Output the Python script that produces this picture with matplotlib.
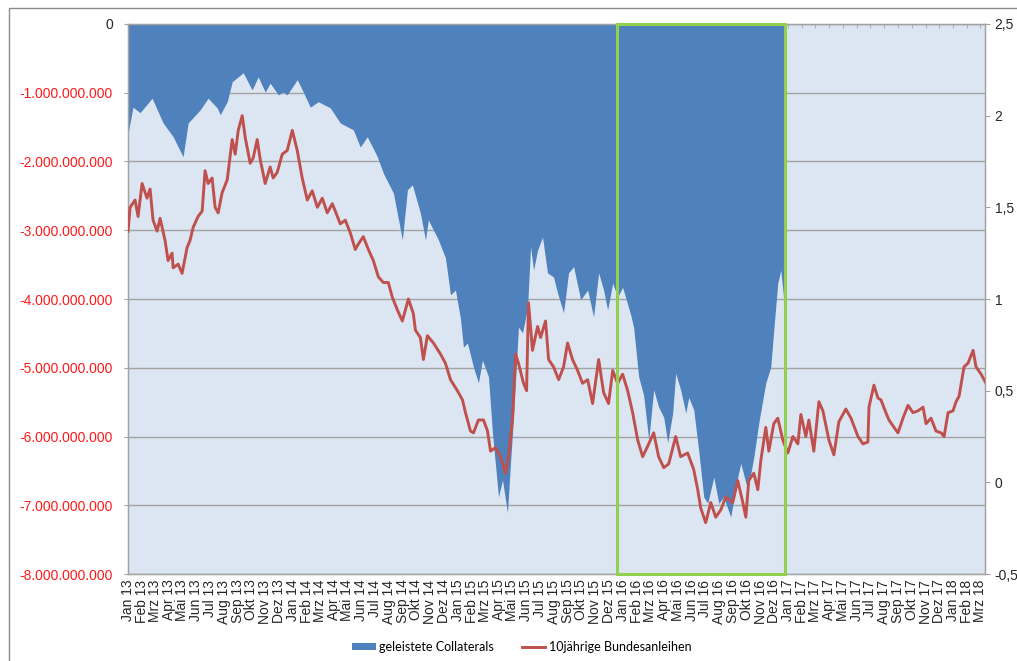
import numpy as np
import pandas as pd
import matplotlib
matplotlib.use("Agg")
import matplotlib.pyplot as plt
import matplotlib.dates as mdates
from matplotlib.patches import Rectangle
from matplotlib.lines import Line2D
from matplotlib.ticker import FuncFormatter, MultipleLocator, FixedLocator

# Geleistete Collaterals (Mrd. EUR), Zeitpunkt in Monaten seit Jan 2013
collateral_month = [
    0.00, 0.36, 0.87, 1.75, 2.55, 3.28, 4.00, 4.37, 5.24, 5.82, 6.48, 6.70, 7.21, 7.57,
    8.37, 9.02, 9.46, 9.97, 10.33, 10.92, 11.28, 11.57, 12.30, 12.74, 13.25, 13.83, 14.70,
    15.43, 16.38, 16.88, 17.39, 18.12, 18.56, 19.29, 19.94, 20.31, 20.67, 21.25, 21.62,
    21.83, 22.56, 23.07, 23.44, 23.80, 24.16, 24.38, 24.67, 25.11, 25.47, 25.76, 26.20,
    26.49, 26.93, 27.22, 27.58, 27.80, 28.02, 28.38, 28.68, 29.04, 29.26, 29.48, 29.77,
    30.13, 30.49, 30.93, 31.22, 31.66, 32.02, 32.39, 32.90, 33.41, 33.84, 34.21, 34.57,
    34.86, 35.23, 35.59, 35.95, 36.54, 36.75, 37.12, 37.48, 37.85, 38.21, 38.57, 38.94,
    39.23, 39.59, 39.81, 40.17, 40.54, 40.76, 41.12, 41.48, 41.85, 42.14, 42.58, 42.94,
    43.30, 43.81, 44.32, 44.54, 45.05, 45.49, 45.85, 46.36, 46.72, 46.94, 47.23, 47.45,
    47.67,
]
collateral_bn = [
    -1.59, -1.21, -1.29, -1.08, -1.44, -1.64, -1.93, -1.44, -1.25, -1.08, -1.22, -1.32,
    -1.13, -0.84, -0.71, -0.96, -0.77, -0.99, -0.86, -1.03, -0.99, -1.03, -0.81, -0.99,
    -1.21, -1.13, -1.22, -1.44, -1.54, -1.79, -1.64, -1.93, -2.17, -2.46, -3.14, -2.41,
    -2.34, -2.75, -3.14, -2.85, -3.14, -3.40, -3.94, -3.87, -4.28, -4.70, -4.64, -4.99,
    -5.22, -4.89, -5.13, -5.95, -6.88, -6.63, -7.11, -6.39, -5.72, -4.41, -4.49, -4.12,
    -3.24, -3.58, -3.29, -3.10, -3.62, -3.68, -3.91, -4.20, -3.62, -3.53, -4.01, -3.87,
    -4.26, -3.62, -3.87, -4.16, -3.77, -3.97, -3.83, -4.23, -4.41, -5.13, -5.40, -6.05,
    -5.32, -5.57, -5.72, -6.09, -5.66, -5.08, -5.32, -5.66, -5.43, -5.61, -6.20, -6.88,
    -6.97, -6.59, -6.97, -6.88, -7.17, -6.59, -6.39, -6.78, -6.30, -5.80, -5.22, -4.99,
    -4.45, -3.77, -3.58, -4.01,
]

# Rendite 10jähriger Bundesanleihen (%), Zeitpunkt in Monaten seit Jan 2013
bund_month = [
    0.00, 0.15, 0.51, 0.73, 1.02, 1.38, 1.60, 1.82, 2.11, 2.33, 2.69, 2.91, 3.20, 3.28,
    3.64, 3.93, 4.29, 4.51, 4.73, 5.09, 5.39, 5.60, 5.82, 6.11, 6.33, 6.55, 6.84, 7.21,
    7.57, 7.79, 8.01, 8.30, 8.52, 8.88, 9.10, 9.39, 9.61, 9.97, 10.33, 10.55, 10.84,
    11.21, 11.57, 11.94, 12.30, 12.66, 13.03, 13.39, 13.76, 14.12, 14.48, 14.85, 15.43,
    15.79, 16.16, 16.52, 16.74, 17.10, 17.47, 17.83, 18.20, 18.56, 18.92, 19.21, 19.58,
    19.94, 20.38, 20.74, 20.89, 21.25, 21.47, 21.76, 22.20, 22.71, 23.07, 23.44, 23.94,
    24.31, 24.53, 24.89, 25.11, 25.47, 25.84, 26.13, 26.35, 26.71, 27.07, 27.44, 27.66,
    27.95, 28.17, 28.38, 28.75, 28.97, 29.11, 29.40, 29.77, 29.99, 30.35, 30.57, 30.93,
    31.30, 31.66, 31.95, 32.31, 32.68, 33.04, 33.41, 33.77, 34.21, 34.57, 34.93, 35.23,
    35.59, 35.95, 36.32, 36.68, 37.05, 37.41, 37.85, 38.21, 38.57, 38.94, 39.30, 39.81,
    40.17, 40.68, 41.12, 41.41, 41.63, 41.99, 42.36, 42.72, 43.09, 43.45, 43.96, 44.32,
    44.69, 44.91, 45.12, 45.49, 45.78, 46.00, 46.36, 46.58, 46.94, 47.23, 47.60, 47.96,
    48.33, 48.69, 48.91, 49.27, 49.49, 49.85, 50.22, 50.51, 50.95, 51.31, 51.67, 52.18,
    52.55, 53.06, 53.42, 53.78, 53.86, 54.22, 54.51, 54.73, 55.09, 55.31, 55.68, 55.97,
    56.33, 56.70, 57.06, 57.42, 57.79, 58.01, 58.37, 58.73, 59.10, 59.32, 59.61, 59.97,
    60.19, 60.41, 60.77, 61.06, 61.43, 61.64, 62.01, 62.37,
]
bund_yield = [
    1.37, 1.50, 1.54, 1.45, 1.63, 1.55, 1.60, 1.43, 1.37, 1.44, 1.32, 1.21, 1.25, 1.17,
    1.19, 1.14, 1.28, 1.32, 1.39, 1.45, 1.48, 1.70, 1.63, 1.66, 1.50, 1.47, 1.58, 1.65,
    1.87, 1.79, 1.92, 2.00, 1.88, 1.74, 1.77, 1.87, 1.76, 1.63, 1.72, 1.66, 1.69, 1.79,
    1.81, 1.92, 1.81, 1.66, 1.54, 1.59, 1.50, 1.55, 1.47, 1.52, 1.41, 1.43, 1.36, 1.27,
    1.30, 1.34, 1.27, 1.21, 1.12, 1.09, 1.09, 1.01, 0.94, 0.88, 1.00, 0.92, 0.83, 0.79,
    0.67, 0.80, 0.76, 0.70, 0.65, 0.56, 0.50, 0.45, 0.38, 0.28, 0.27, 0.34, 0.34, 0.28,
    0.17, 0.19, 0.14, 0.05, 0.14, 0.35, 0.70, 0.65, 0.54, 0.50, 0.98, 0.72, 0.85, 0.79,
    0.88, 0.67, 0.63, 0.56, 0.63, 0.76, 0.67, 0.61, 0.54, 0.56, 0.43, 0.67, 0.49, 0.43,
    0.61, 0.54, 0.59, 0.50, 0.38, 0.23, 0.14, 0.21, 0.27, 0.14, 0.08, 0.10, 0.25, 0.14,
    0.16, 0.07, -0.04, -0.14, -0.22, -0.11, -0.19, -0.15, -0.08, -0.11, 0.01, -0.11,
    -0.19, 0.01, 0.05, -0.04, 0.12, 0.30, 0.17, 0.32, 0.35, 0.23, 0.16, 0.25, 0.21, 0.37,
    0.25, 0.34, 0.17, 0.44, 0.39, 0.23, 0.15, 0.33, 0.40, 0.35, 0.25, 0.21, 0.22, 0.41,
    0.53, 0.46, 0.45, 0.38, 0.34, 0.30, 0.27, 0.35, 0.42, 0.38, 0.39, 0.41, 0.32, 0.35,
    0.28, 0.27, 0.25, 0.38, 0.39, 0.44, 0.47, 0.63, 0.65, 0.72, 0.63, 0.59, 0.54,
]

MONATE = ["Jan", "Feb", "Mrz", "Apr", "Mai", "Jun", "Jul", "Aug", "Sep", "Okt", "Nov", "Dez"]
LEGEND_COLLATERAL = "geleistete Collaterals"
LEGEND_BUND = "10jährige Bundesanleihen"

# Zeitraum des Ausschnitts (grüner Rahmen)
highlight_start = "2015-12-19"
highlight_end = "2016-12-24"

START = pd.Timestamp("2013-01-01")
END = pd.Timestamp("2018-03-12")


def months_to_num(months):
    ts = START + pd.to_timedelta(np.asarray(months) * 30.4375, unit="D")
    return mdates.date2num(ts.to_pydatetime())


plt.rcParams["font.family"] = ["Liberation Sans", "DejaVu Sans"]

BLUE = "#4F81BD"
RED = "#C0504D"
GRID = "#A3A3A3"
BG = "#DCE6F2"

fig = plt.figure(figsize=(10.17, 6.61), dpi=100)
ax = fig.add_axes([0.1259, 0.1316, 0.8426, 0.8321])
ax.set_facecolor(BG)

xc = months_to_num(collateral_month)
yc = np.asarray(collateral_bn) * 1e9
ax.fill_between(xc, yc, 0, color=BLUE, linewidth=0, zorder=1)

ax.set_ylim(-8e9, 0)
ax.set_xlim(mdates.date2num(START), mdates.date2num(END))
ax.yaxis.set_major_locator(MultipleLocator(1e9))
ax.yaxis.set_major_formatter(FuncFormatter(lambda v, p: f"{int(round(v)):,}".replace(",", ".")))
ax.grid(axis="y", color=GRID, linewidth=1.0, zorder=0)
ax.set_axisbelow(True)

# Monatliche Beschriftung der Zeitachse
month_ticks = pd.date_range("2013-01-01", "2018-03-01", freq="MS")
ax.xaxis.set_major_locator(FixedLocator(mdates.date2num(month_ticks.to_pydatetime())))
ax.set_xticklabels([f"{MONATE[d.month - 1]} {d.year % 100:02d}" for d in month_ticks],
                   rotation=90, fontsize=10, color="#262626")
ax.tick_params(axis="x", top=True, bottom=False, labeltop=False, labelbottom=True,
               direction="in", length=3, color="#B0B0B0", pad=4)
ax.tick_params(axis="y", direction="out", length=3, color=GRID, labelsize=10, pad=8)
for lbl in ax.get_yticklabels():
    lbl.set_color("#262626" if lbl.get_text() == "0" else "#FF1A1A")

for side in ["left", "right", "top", "bottom"]:
    ax.spines[side].set_color(GRID)
    ax.spines[side].set_linewidth(1.0)

ax2 = ax.twinx()
xb = months_to_num(bund_month)
ax2.plot(xb, bund_yield, color=RED, linewidth=2.1, solid_joinstyle="round", zorder=3)
ax2.set_ylim(-0.5, 2.5)
ax2.yaxis.set_major_locator(MultipleLocator(0.5))
ax2.yaxis.set_major_formatter(FuncFormatter(lambda v, p: f"{v:g}".replace(".", ",")))
ax2.tick_params(axis="y", direction="out", length=3.5, color=GRID, labelsize=10,
                labelcolor="#262626", pad=3.5)
for side in ["left", "right", "top", "bottom"]:
    ax2.spines[side].set_color(GRID)

# Grüner Rahmen um das Jahr 2016
x0 = mdates.date2num(pd.Timestamp(highlight_start))
x1 = mdates.date2num(pd.Timestamp(highlight_end))
ax2.add_patch(Rectangle((x0, -0.5), x1 - x0, 3.0, fill=False, edgecolor="#92D050",
                        linewidth=2.2, zorder=5, clip_on=False))

# Legende
handles = [Rectangle((0, 0), 1, 1, facecolor=BLUE, edgecolor="none"),
           Line2D([0], [0], color=RED, linewidth=2.1)]
fig.legend(handles, [LEGEND_COLLATERAL, LEGEND_BUND], loc="center",
           bbox_to_anchor=(0.513, 0.021), ncol=2, frameon=False,
           prop={"family": "Lato", "size": 9}, handlelength=1.9, handleheight=0.5,
           handletextpad=0.3, columnspacing=2.2)

# Rahmen des Diagrammbereichs
fig.add_artist(Rectangle((9 / 1017, -0.05), 1.1, 1 - 8 / 661 + 0.05,
                         transform=fig.transFigure, fill=False,
                         edgecolor="#8C8C8C", linewidth=1.0))

fig.savefig("out.png", dpi=100, facecolor="white")
